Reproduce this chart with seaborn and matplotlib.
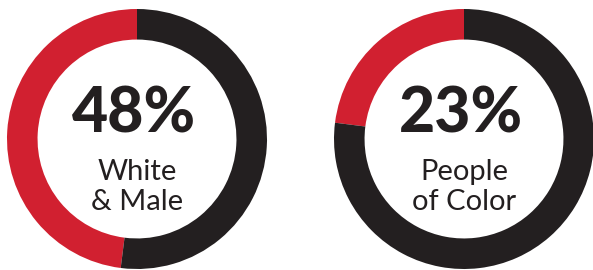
import matplotlib
matplotlib.use("Agg")
import matplotlib.pyplot as plt
import seaborn as sns

# data
labels_top = ["48%", "23%"]
labels_bottom = ["White\n& Male", "People\nof Color"]
shares = [48, 23]

RED = "#d12030"
DARK = "#231f20"

sns.set_theme(style="white")
plt.rcParams["font.family"] = ["Lato", "DejaVu Sans"]

fig = plt.figure(figsize=(5.93, 2.70), dpi=100)
W, H = 593, 270
centers = [(137, 139), (464, 139)]
R = 130

for (cx, cy), share, top, bottom in zip(centers, shares, labels_top, labels_bottom):
    ax = fig.add_axes([(cx - R) / W, (H - cy - R) / H, 2 * R / W, 2 * R / H])
    ax.pie([share, 100 - share], colors=[RED, DARK], startangle=90,
           counterclock=True, radius=1,
           wedgeprops=dict(width=0.235, linewidth=0))
    ax.set_xlim(-1, 1)
    ax.set_ylim(-1, 1)
    ax.set_aspect("equal")
    ax.axis("off")
    ax.text(-0.02, 0.185, top, ha="center", va="center", fontsize=45,
            fontweight="black", color=DARK)
    ax.text(0, -0.37, bottom, ha="center", va="center", fontsize=21,
            color=DARK, linespacing=1.2)

fig.savefig("out.png", dpi=100, facecolor="white")
